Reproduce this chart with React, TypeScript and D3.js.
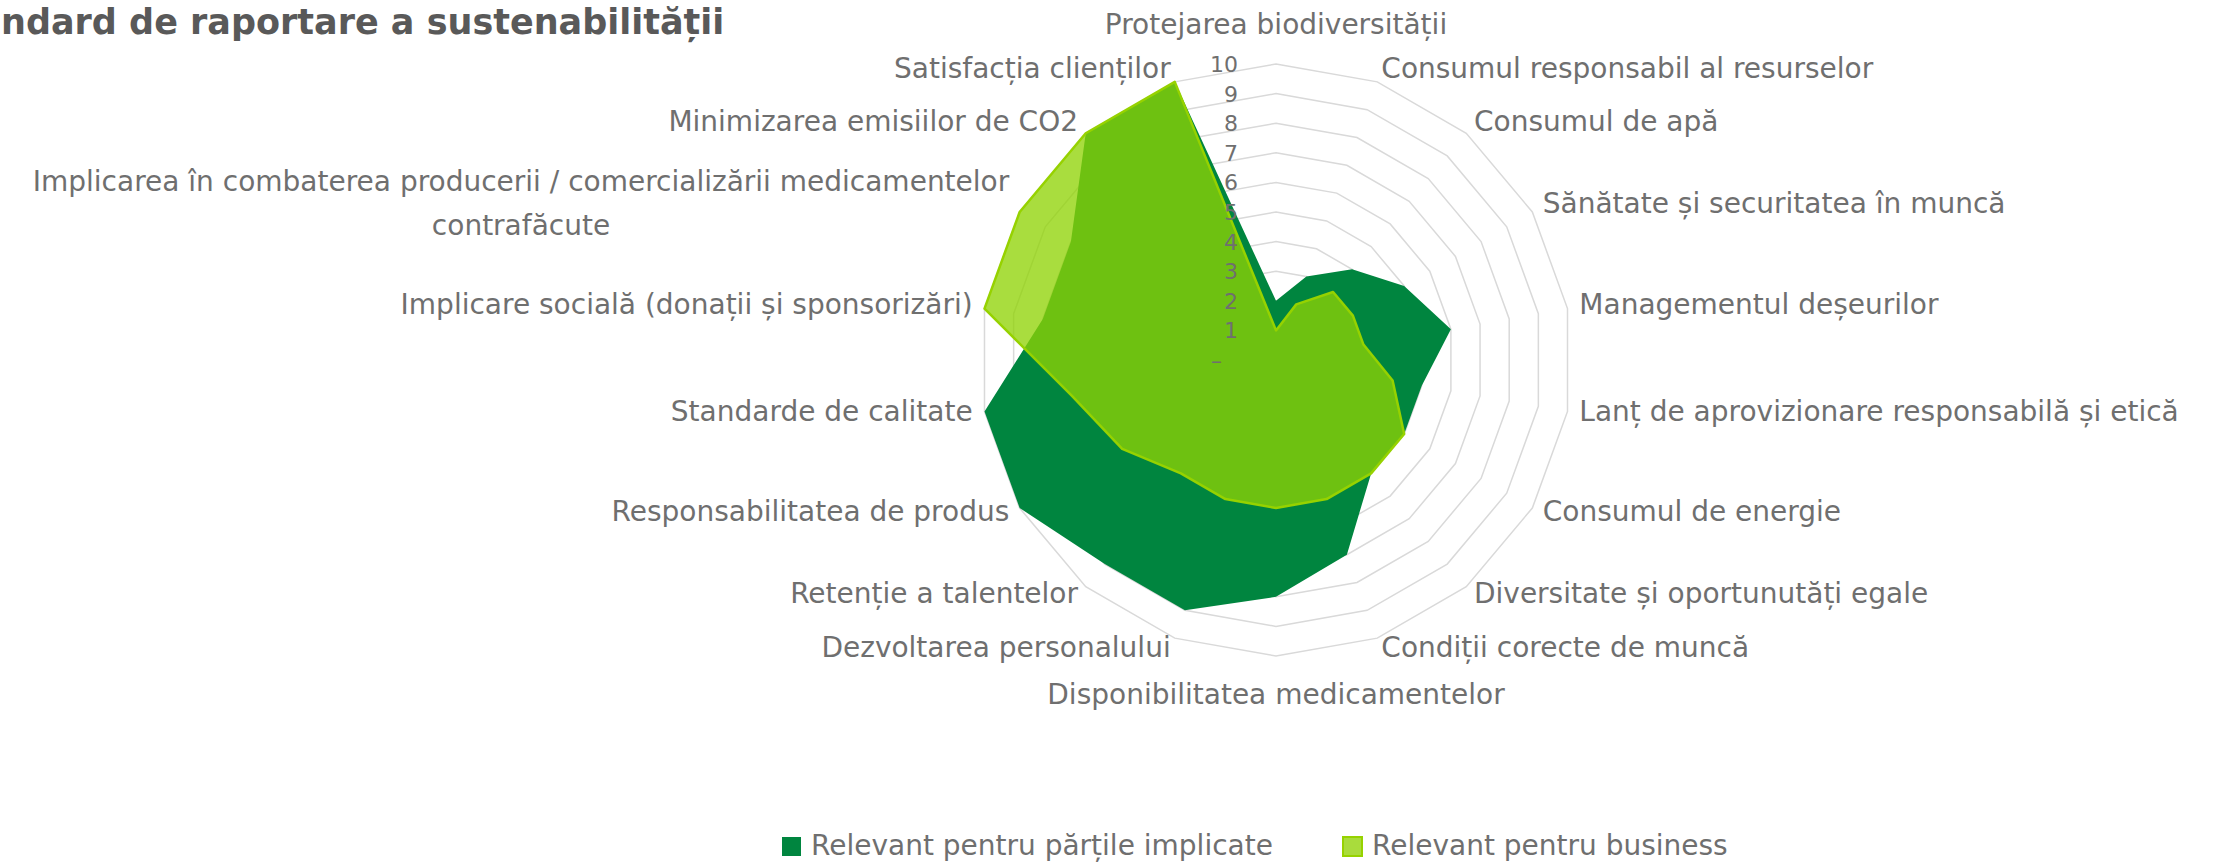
import React from "react";
import * as d3 from "d3";

const categories = [
  "Protejarea biodiversității",
  "Consumul responsabil al resurselor",
  "Consumul de apă",
  "Sănătate și securitatea în muncă",
  "Managementul deșeurilor",
  "Lanț de aprovizionare responsabilă și etică",
  "Consumul de energie",
  "Diversitate și oportunutăți egale",
  "Condiții corecte de muncă",
  "Disponibilitatea medicamentelor",
  "Dezvoltarea personalului",
  "Retenție a talentelor",
  "Responsabilitatea de produs",
  "Standarde de calitate",
  "Implicare socială (donații și sponsorizări)",
  "Implicarea în combaterea producerii / comercializării medicamentelor\ncontrafăcute",
  "Minimizarea emisiilor de CO2",
  "Satisfacția clienților",
];

const stakeholderValues = [2, 3, 4, 5, 6, 5, 5, 5, 7, 8, 9, 9, 10, 10, 8, 8, 10, 10];
const businessValues = [1, 2, 3, 3, 3, 4, 5, 5, 5, 5, 5, 5, 6, 7, 10, 10, 10, 10];

const tickValues = [0, 1, 2, 3, 4, 5, 6, 7, 8, 9, 10];
const tickLabels = ["–", "1", "2", "3", "4", "5", "6", "7", "8", "9", "10"];

const seriesNames = ["Relevant pentru părțile implicate", "Relevant pentru business"];
const titleText = "ndard de raportare a sustenabilității";

const W = 2216;
const H = 862;
const CX = 1276;
const CY = 360;
const R = 296;
const FONT = "'DejaVu Sans', sans-serif";
const LABEL_SIZE = 28;
const TICK_SIZE = 22;
const TEXT_COLOR = "#6f6f6f";
const DARK = "#00853F";
const LIGHT = "rgb(143,211,4)";
const LIGHT_STROKE = "#96D200";
const GRID = "#D9D9D9";

let measureCtx: CanvasRenderingContext2D | null = null;
function measure(text: string, size: number): number {
  if (!measureCtx) {
    const c = document.createElement("canvas");
    measureCtx = c.getContext("2d");
  }
  if (!measureCtx) return text.length * size * 0.55;
  measureCtx.font = `${size}px ${FONT}`;
  return measureCtx.measureText(text).width;
}

export default function App() {
  const n = categories.length;
  const r = d3.scaleLinear().domain([0, 10]).range([0, R]);
  const angle = (i: number) => (i * 2 * Math.PI) / n;

  const radial = d3
    .lineRadial<number>()
    .angle((_d, i) => angle(i))
    .radius((d) => r(d))
    .curve(d3.curveLinearClosed);

  const ringPath = (v: number) => radial(categories.map(() => v)) as string;

  const labels = categories.map((name, i) => {
    const a = angle(i);
    const s = Math.sin(a);
    const c = Math.cos(a);
    const px = CX + (R + 12) * s;
    const py = CY - (R + 12) * c;
    const lines = name.split("\n");
    let anchor: "start" | "middle" | "end" = "middle";
    if (s > 0.01) anchor = "start";
    else if (s < -0.01) anchor = "end";
    let centerY = py - 3;
    if (anchor === "middle") centerY = c > 0 ? py - 28 : py + 26;
    const lineH = 44;
    const widths = lines.map((l) => measure(l, LABEL_SIZE));
    const maxW = Math.max(...widths);
    let blockCx = px;
    if (anchor === "start") blockCx = px + maxW / 2;
    if (anchor === "end") blockCx = px - maxW / 2;
    return lines.map((l, j) => {
      const cy = centerY + (j - (lines.length - 1) / 2) * lineH;
      const multi = lines.length > 1;
      return (
        <text
          key={`${i}-${j}`}
          x={multi ? blockCx : px}
          y={cy + LABEL_SIZE * 0.36}
          textAnchor={multi ? "middle" : anchor}
          fontSize={LABEL_SIZE}
          fontFamily={FONT}
          fill={TEXT_COLOR}
        >
          {l}
        </text>
      );
    });
  });

  const legendItems = [
    { name: seriesNames[0], x: 782, fill: DARK, stroke: "none" },
    { name: seriesNames[1], x: 1343, fill: "#A9DC3C", stroke: LIGHT_STROKE },
  ];

  return (
    <svg
      width={W}
      height={H}
      style={{ position: "absolute", left: 0, top: 0, background: "#fff" }}
    >
      <rect x={0} y={0} width={W} height={H} fill="#fff" />
      <text
        x={1}
        y={34}
        textAnchor="start"
        fontSize={35}
        fontWeight="bold"
        fontFamily={FONT}
        fill="#595959"
      >
        {titleText}
      </text>

      <g transform={`translate(${CX},${CY})`}>
        {tickValues
          .filter((v) => v > 0)
          .map((v) => (
            <path key={v} d={ringPath(v)} fill="none" stroke={GRID} strokeWidth={1.5} />
          ))}
        <path d={radial(stakeholderValues) as string} fill={DARK} stroke="none" />
        <path
          d={radial(businessValues) as string}
          fill={LIGHT}
          fillOpacity={0.77}
          stroke={LIGHT_STROKE}
          strokeWidth={2.5}
          strokeLinejoin="round"
        />
        {tickValues.map((v, i) => (
          <text
            key={v}
            x={v === 0 ? -54 : -38}
            y={-r(v) + TICK_SIZE * 0.36}
            textAnchor="end"
            fontSize={TICK_SIZE}
            fontFamily={FONT}
            fill={TEXT_COLOR}
          >
            {tickLabels[i]}
          </text>
        ))}
      </g>

      {labels}

      {legendItems.map((it) => (
        <g key={it.name}>
          <rect
            x={it.x}
            y={837}
            width={19}
            height={19}
            fill={it.fill}
            stroke={it.stroke}
            strokeWidth={it.stroke === "none" ? 0 : 2}
          />
          <text
            x={it.x + 29}
            y={855}
            fontSize={LABEL_SIZE}
            fontFamily={FONT}
            fill={TEXT_COLOR}
          >
            {it.name}
          </text>
        </g>
      ))}
    </svg>
  );
}
